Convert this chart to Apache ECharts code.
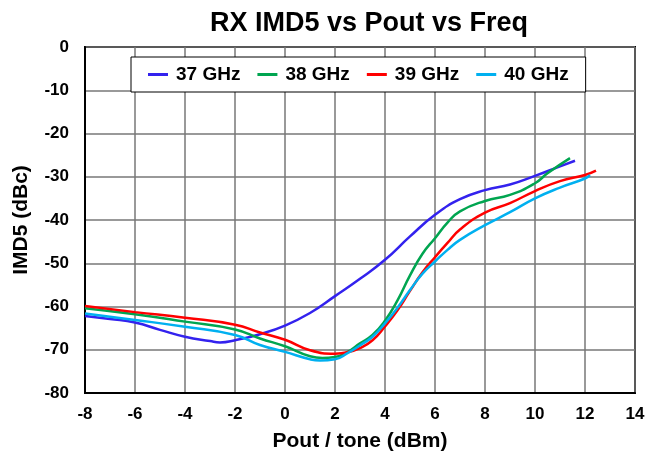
<!DOCTYPE html>
<html>
<head>
<meta charset="utf-8">
<script src="https://cdn.jsdelivr.net/npm/echarts@6/dist/echarts.min.js"></script>
<style>html,body{margin:0;padding:0;background:#fff;}#c{width:663px;height:463px;}</style>
</head>
<body>
<div id="c"></div>
<script>
var seriesNames = ['37 GHz', '38 GHz', '39 GHz', '40 GHz'];
var x37 = [-8, -7, -6, -5, -4, -3, -2.6, -2, -1, 0, 1, 2, 3, 4, 5, 6, 7, 8, 9, 10, 11, 11.6];
var y37 = [-62.2, -62.9, -63.7, -65.4, -67, -68, -68.3, -67.8, -66.4, -64.4, -61.5, -57.6, -53.6, -49.2, -43.8, -38.8, -35.2, -33.1, -31.8, -29.8, -27.6, -26.3];
var x38 = [-8, -6, -4, -2, -1, 0, 1, 1.5, 2, 2.5, 3, 3.5, 4, 4.5, 5, 5.5, 6, 6.5, 7, 8, 9, 10, 10.5, 11.4];
var y38 = [-60.4, -61.8, -63.5, -65.3, -67.4, -69.2, -71.5, -71.9, -71.7, -70.5, -68.5, -66.6, -63.3, -58.6, -52.8, -47.8, -44.2, -40.6, -38, -35.6, -34.2, -31.5, -29.2, -25.7];
var x39 = [-8, -6, -4, -2, -1, 0, 1, 2, 2.5, 3, 3.5, 4, 4.5, 5, 5.5, 6, 6.5, 7, 8, 9, 10, 11, 12, 12.44];
var y39 = [-59.9, -61.3, -62.6, -64.2, -66, -67.7, -70.1, -70.9, -70.6, -69.6, -67.8, -64.6, -60.9, -56.4, -52.1, -48.6, -45.3, -42.2, -38.3, -36.1, -33.3, -31, -29.6, -28.6];
var x40 = [-8, -6, -4, -2, -1, 0, 1, 1.4, 2, 2.5, 3, 3.5, 4, 4.5, 5, 5.5, 6, 6.5, 7, 8, 9, 10, 11, 12, 12.2];
var y40 = [-61.6, -63.1, -64.7, -66.6, -68.9, -70.5, -72.2, -72.5, -72.2, -70.8, -69, -67, -63.9, -60.3, -56.2, -52.4, -49.6, -46.9, -44.6, -41.2, -38.2, -35, -32.5, -30.4, -29.6];
var colors = ['#3322ee', '#00a550', '#ff0000', '#00b0f0'];

function pairs(xs, ys) { return xs.map(function (x, i) { return [x, ys[i]]; }); }
var allX = [x37, x38, x39, x40];
var allY = [y37, y38, y39, y40];

var FONT = '"Liberation Sans", Arial, sans-serif';
var chart = echarts.init(document.getElementById('c'), null, { renderer: 'canvas' });
chart.setOption({
  animation: false,
  backgroundColor: '#fff',
  title: {
    text: 'RX IMD5 vs Pout vs Freq',
    left: 205, top: 5,
    textStyle: { fontFamily: FONT, fontSize: 27, fontWeight: 'bold', color: '#000' }
  },
  legend: {
    data: seriesNames,
    left: 131, top: 57,
    padding: [8, 17, 8, 17],
    itemGap: 17,
    itemWidth: 20, itemHeight: 3,
    icon: 'rect',
    borderColor: '#000', borderWidth: 1, borderRadius: 0,
    backgroundColor: '#fff',
    textStyle: { fontFamily: FONT, fontSize: 19, fontWeight: 'bold', color: '#000', padding: [0, 0, 0, 3] }
  },
  grid: {
    left: 85, right: 28, top: 47, bottom: 70,
    show: true, borderColor: '#000', borderWidth: 2, backgroundColor: 'transparent'
  },
  xAxis: {
    type: 'value', min: -8, max: 14, interval: 2,
    name: 'Pout / tone (dBm)', nameLocation: 'middle', nameGap: 38,
    nameTextStyle: { fontFamily: FONT, fontSize: 21, fontWeight: 'bold', color: '#000' },
    axisLine: { show: true, onZero: false, lineStyle: { color: '#000', width: 2 } },
    axisTick: { show: false },
    axisLabel: { fontFamily: FONT, fontSize: 17, fontWeight: 'bold', color: '#000', margin: 13 },
    splitLine: { show: true, lineStyle: { color: '#777', width: 1.5 } }
  },
  yAxis: {
    type: 'value', min: -80, max: 0, interval: 10,
    name: 'IMD5 (dBc)', nameLocation: 'middle', nameGap: 53,
    nameTextStyle: { fontFamily: FONT, fontSize: 21, fontWeight: 'bold', color: '#000' },
    axisLine: { show: true, onZero: false, lineStyle: { color: '#000', width: 2 } },
    axisTick: { show: false },
    axisLabel: { fontFamily: FONT, fontSize: 17, fontWeight: 'bold', color: '#000', margin: 16 },
    splitLine: { show: true, lineStyle: { color: '#777', width: 1.5 } }
  },
  series: seriesNames.map(function (n, i) {
    return {
      name: n, type: 'line', smooth: 0.5, showSymbol: false, symbol: 'none',
      data: pairs(allX[i], allY[i]),
      itemStyle: { color: colors[i] },
      lineStyle: { color: colors[i], width: 2.5 }
    };
  })
});
</script>
</body>
</html>
